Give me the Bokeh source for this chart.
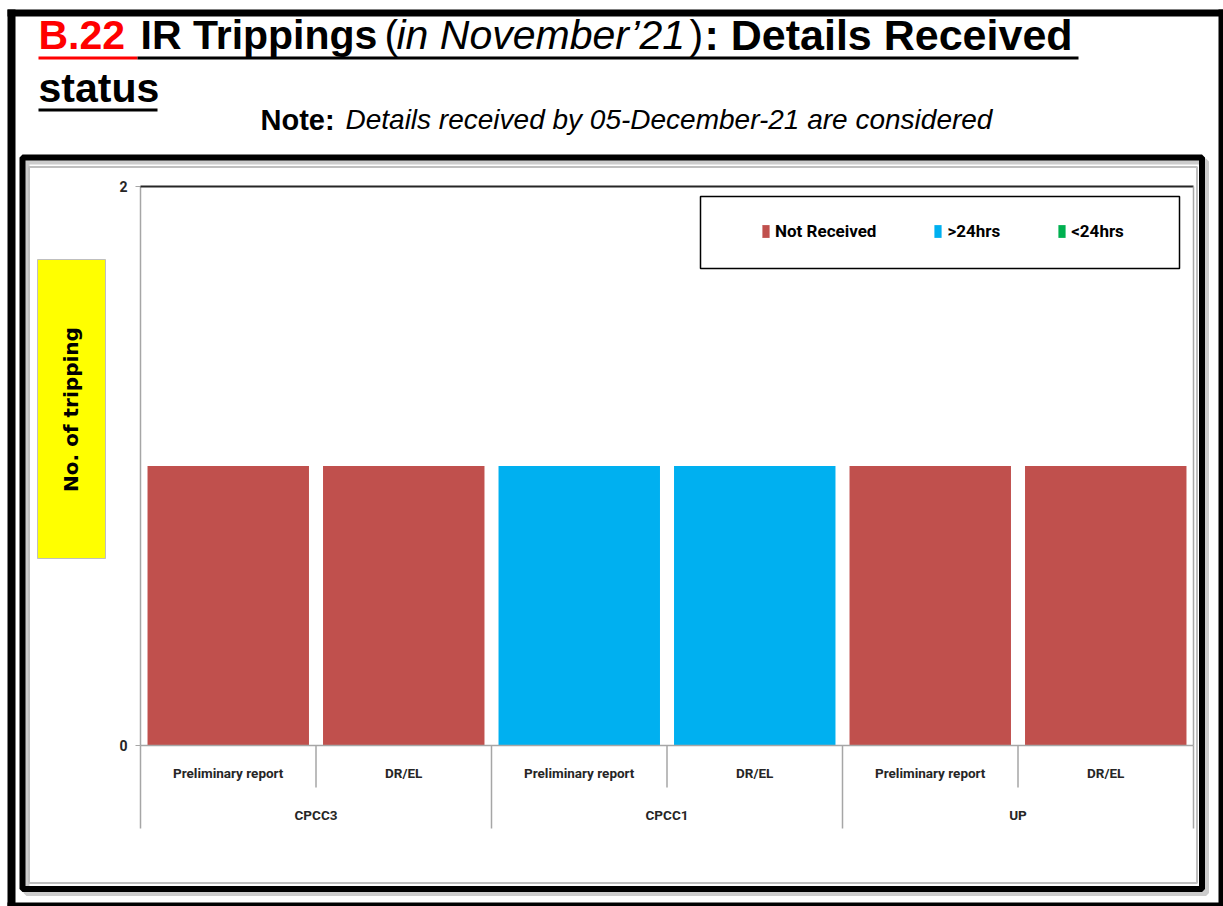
import math
from bokeh.plotting import figure
from bokeh.models import (Range1d, LinearAxis, FixedTicker, Label, BoxAnnotation,
                          ColumnDataSource)
from bokeh.embed import file_html
from bokeh.resources import INLINE

# ---- data ----
groups = ["CPCC3", "CPCC1", "UP"]
reports = ["Preliminary report", "DR/EL"]
not_received = [1, 1, 0, 0, 1, 1]
over_24hrs = [0, 0, 1, 1, 0, 0]
under_24hrs = [0, 0, 0, 0, 0, 0]
series_names = ["Not Received", ">24hrs", "<24hrs"]
series_colors = ["#C0504D", "#00B0F0", "#00B050"]
y_ticks = [0, 2]
y_max = 2

factors = [(g, r) for g in groups for r in reports]
n_cat = len(factors)
centers = [i + 0.5 for i in range(n_cat)]
group_centers = [len(reports) * (j + 0.5) for j in range(len(groups))]
src = ColumnDataSource(dict(x=centers, nr=not_received, gt=over_24hrs, lt=under_24hrs))

# ---- layout (pixels) ----
W, H = 1223, 906
PL, PR, PT, PB = 140, 1193, 186, 745          # plot area in canvas pixels
ux = (PR - PL) / n_cat
uy = (PB - PT) / y_max

SANS = "Liberation Sans"
AX = "Roboto"

p = figure(width=W, height=H,
           x_range=Range1d(-PL / ux, (W - PL) / ux),
           y_range=Range1d(-(H - PB) / uy, y_max + PT / uy),
           output_backend="svg", toolbar_location=None,
           x_axis_type=None, y_axis_type=None,
           min_border=0, min_border_left=0, min_border_right=0,
           min_border_top=0, min_border_bottom=0)
p.title.visible = False
p.outline_line_color = None
p.xgrid.visible = False
p.ygrid.visible = False
p.background_fill_color = "white"
p.border_fill_color = "white"

# ---- decorations (screen units: x from left, y from bottom of canvas) ----
def X(px):
    return px

def Y(py):
    return H - py

def sbox(l, t, r, b, **kw):
    kw.setdefault("fill_color", None)
    kw.setdefault("line_color", None)
    kw.setdefault("fill_alpha", 1)
    kw.setdefault("line_alpha", 1)
    return BoxAnnotation(left=X(l), right=X(r), top=Y(t), bottom=Y(b),
                         left_units="screen", right_units="screen",
                         top_units="screen", bottom_units="screen", level="underlay", **kw)

def lab(text, px, py, font=SANS, size="41px", style="bold", color="#000000",
        align="left", baseline="alphabetic", angle=0):
    return Label(x=X(px), y=Y(py), x_units="screen", y_units="screen", text=text,
                 text_font=font, text_font_size=size, text_font_style=style,
                 text_color=color, text_align=align, text_baseline=baseline, angle=angle)

under = []
# outer page border
under.append(sbox(7, 9, 15, 906, fill_color="black"))
under.append(sbox(7, 9, 1223, 16, fill_color="black"))
under.append(sbox(1218, 9, 1223, 906, fill_color="black"))
under.append(sbox(7, 902, 1223, 906, fill_color="black"))
# chart frame shadow + frame + chart-area border
under.append(sbox(26, 161, 1205.5, 892.5, line_color="#7f7f7f", line_alpha=0.4, line_width=6))
under.append(sbox(22, 157, 1201.5, 888.5, line_color="black", line_width=6))
under.append(sbox(28.5, 166.5, 1196.5, 882.5, line_color="#bfbfbf", line_width=2))
# yellow box for y-axis title
under.append(sbox(37, 259, 105, 558, fill_color="#FFFF00", line_color="#bfbfbf", line_width=1))
# title underlines
under.append(sbox(38, 56, 137, 59, fill_color="#FF0000"))
under.append(sbox(137, 56, 1078, 59, fill_color="black"))
under.append(sbox(38, 108, 157, 111, fill_color="black"))
# legend frame
under.append(sbox(700, 196, 1179, 268, line_color="black", line_width=1.5, fill_color="white"))
for a in under:
    p.add_layout(a)

# ---- bars ----
p.vbar_stack(["nr", "gt", "lt"], x="x", width=0.92, source=src,
             fill_color=series_colors, line_color=None, legend_label=series_names)

# ---- axes ----
ya = LinearAxis(fixed_location=0, bounds=(0, y_max), ticker=FixedTicker(ticks=y_ticks))
ya.axis_line_color = "#a6a6a6"
ya.axis_line_width = 1.5
ya.major_tick_line_color = "#a6a6a6"
ya.major_tick_out = 5
ya.major_tick_in = 0
ya.minor_tick_line_color = None
ya.major_label_text_font = AX
ya.major_label_text_font_style = "bold"
ya.major_label_text_font_size = "14px"
ya.major_label_text_color = "#262626"
ya.major_label_standoff = 8
p.add_layout(ya, "left")

xa = LinearAxis(fixed_location=0, bounds=(0, n_cat), ticker=FixedTicker(ticks=centers),
                major_label_overrides={c: f[1] for c, f in zip(centers, factors)})
xa.axis_line_color = "#a6a6a6"
xa.axis_line_width = 1.5
xa.major_tick_line_color = None
xa.minor_tick_line_color = None
xa.major_tick_out = 0
xa.major_tick_in = 0
xa.major_label_text_font = AX
xa.major_label_text_font_style = "bold"
xa.major_label_text_font_size = "13.5px"
xa.major_label_text_color = "#262626"
xa.major_label_standoff = 19
p.add_layout(xa, "below")

ga = LinearAxis(fixed_location=0, bounds=(0, n_cat), ticker=FixedTicker(ticks=group_centers),
                major_label_overrides={c: g for c, g in zip(group_centers, groups)})
ga.axis_line_color = None
ga.major_tick_line_color = None
ga.minor_tick_line_color = None
ga.major_tick_out = 0
ga.major_tick_in = 0
ga.major_label_text_font = AX
ga.major_label_text_font_style = "bold"
ga.major_label_text_font_size = "13.5px"
ga.major_label_text_color = "#262626"
ga.major_label_standoff = 61
p.add_layout(ga, "below")

# ---- legend ----
lg = p.legend[0]
lg.orientation = "horizontal"
lg.location = (761, H - 241)
lg.border_line_color = None
lg.background_fill_alpha = 0
lg.padding = 10
lg.margin = 0
lg.spacing = 57
lg.glyph_width = 9
lg.glyph_height = 16
lg.label_standoff = 5
lg.label_text_font = AX
lg.label_text_font_style = "bold"
lg.label_text_font_size = "17px"
lg.label_text_color = "#000000"

# ---- plot-area top border & category separators ----
over = []
over.append(BoxAnnotation(left=0, right=n_cat, top=y_max, bottom=y_max, fill_alpha=0,
                          line_color="#262626", line_alpha=1, line_width=2))
over.append(BoxAnnotation(left=n_cat, right=n_cat, top=y_max, bottom=0, fill_alpha=0,
                          line_color="#a6a6a6", line_alpha=1, line_width=1.5))
for k in range(n_cat + 1):
    long_line = (k % len(reports) == 0)
    over.append(BoxAnnotation(left=k, right=k, top=Y(PB), bottom=Y(828 if long_line else 787),
                              top_units="screen", bottom_units="screen", fill_alpha=0,
                              line_color="#a6a6a6", line_alpha=1, line_width=1.5))

# ---- texts ----
T1 = 34
over.append(lab("B.22", 38, T1, color="#FF0000"))
over.append(lab("IR Trippings", 140, T1))
over.append(lab("(", 384, T1, style="normal"))
over.append(lab("in November\u201921", 396, T1, style="italic"))
over.append(lab(")", 689, T1, style="normal"))
over.append(lab(": Details Received", 704, T1, size="43px"))
over.append(lab("status", 38, 87))
over.append(lab("Note:", 260, 119, size="29px"))
over.append(lab("Details received by 05-December-21 are considered", 345, 119,
                style="italic", size="28px"))
over.append(lab("No. of tripping", 70, 409, font="DejaVu Sans", size="20px",
                align="center", baseline="middle", angle=math.pi / 2))
for a in over:
    p.add_layout(a)

open("out.html", "w").write(file_html(p, INLINE))
